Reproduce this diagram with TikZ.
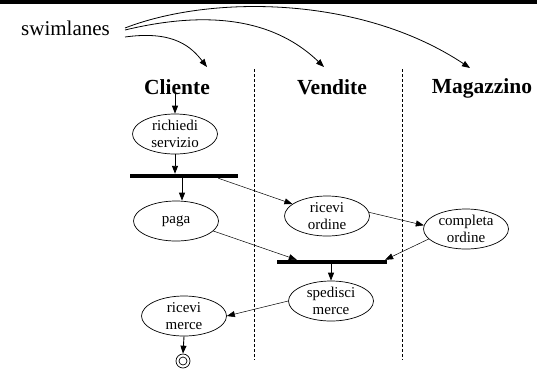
\documentclass[tikz,border=0pt]{standalone}
\usepackage{fontspec}
\setmainfont{Liberation Serif}
\usetikzlibrary{arrows.meta,shapes.geometric,calc}
\begin{document}
\begin{tikzpicture}[x=1pt,y=-1pt,
  act/.style={ellipse,draw,line width=0.7pt,minimum width=85pt,minimum height=40pt,
    inner sep=0pt,align=center,font=\fontsize{15}{16.5}\selectfont},
  lane/.style={font=\bfseries\fontsize{21.5}{24}\selectfont,inner sep=0pt,anchor=base},
  bar/.style={fill=black,inner sep=0pt,minimum height=4pt},
  tip/.style={-{Triangle[length=8pt,width=6pt]}},
  flow/.style={tip,line width=0.9pt},
  msg/.style={tip,line width=0.5pt},
  pointer/.style={tip,line width=0.8pt},
  sep/.style={dash pattern=on 3pt off 2pt,line width=0.8pt}]
\useasboundingbox (0,0) rectangle (537,370);
% heavy rule along the top edge
\fill (0,0) rectangle (537,4);

% label and the three curved pointers to the lane headings
\node[font=\fontsize{21}{24}\selectfont,anchor=base west,inner sep=0pt] (sw) at (21,35) {swimlanes};
\coordinate (s1) at (125,28);
\coordinate (s2) at (125,30);
\coordinate (s3) at (125,37);
\coordinate (t1) at (207,67);
\coordinate (t2) at (324,67);
\coordinate (t3) at (470,68);
\draw[pointer] (s3) .. controls (175,30) and (192,48) .. (t1);
\draw[pointer] (s2) .. controls (200,12) and (270,15) .. (t2);
\draw[pointer] (s1) .. controls (210,-5) and (360,-5) .. (t3);

% lane headings and separators
\node[lane] (cl) at (177,94) {Cliente};
\node[lane] (ve) at (332,94) {Vendite};
\node[lane] (ma) at (482,93) {Magazzino};
\draw[sep] (254,69) -- (254,360);
\draw[sep] (402,69) -- (402,360);

% activities and synchronisation bars
\node[act] (rs) at (175,134) {richiedi\\servizio};
\node[bar,minimum width=108pt] (b1) at (184,176) {};
\node[act] (pa) at (176,221) {paga};
\node[act] (ro) at (327,216) {ricevi\\ordine};
\node[act] (co) at (466,229) {completa\\ordine};
\node[bar,minimum width=110pt] (b2) at (332,262) {};
\node[act] (sp) at (331,301) {spedisci\\merce};
\node[act] (rm) at (184,316) {ricevi\\merce};
\node[circle,draw,line width=0.7pt,minimum size=14pt,inner sep=0pt] (fin) at (183,361) {};
\draw[line width=0.7pt] (fin.center) circle (4pt);

% control flow
\coordinate (pin) at ($(pa.north)+(6,0)$);
\draw[flow] (rs.north |- cl.base) -- (rs.north);
\draw[flow] (rs.south) -- (rs.south |- b1.north);
\draw[flow] (pin |- b1.south) -- (pin);
\draw[msg] ($(b1.south east)+(-20,0)$) -- (ro);
\draw[msg] (ro.5) -- (co.175);
\draw[msg] (pa.-15) -- ($(b2.north west)+(20,0)$);
\draw[msg] (co.195) -- ($(b2.north east)+(-2,0)$);
\draw[flow] (b2.south -| sp.north) -- (sp.north);
\draw[msg] (sp.west) -- (rm.east);
\draw[flow] (rm.south) -- (fin.north);
\end{tikzpicture}
\end{document}
